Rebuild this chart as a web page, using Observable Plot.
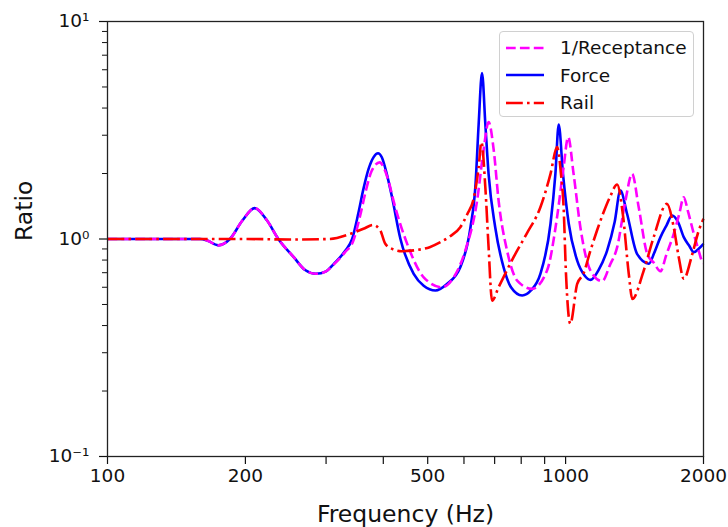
<!DOCTYPE html>
<html>
<head>
<meta charset="utf-8">
<script src="https://cdn.jsdelivr.net/npm/d3@7"></script>
<script src="https://cdn.jsdelivr.net/npm/@observablehq/plot@0.6"></script>
<style>
  html, body { margin: 0; padding: 0; background: #fff; }
  #wrap { position: relative; width: 728px; height: 527px; font-family: "DejaVu Sans", sans-serif; }
  #legend { position: absolute; left: 499px; top: 31px; width: 193px; height: 84px;
    border: 1px solid #d0d0d0; border-radius: 4px; background: rgba(255,255,255,0.85); }
  .row { position: absolute; left: 0; height: 27px; display: flex; align-items: center; font-size: 18.5px; color: #111; }
  .row svg { margin-left: 6px; margin-right: 16px; }
</style>
</head>
<body>
<div id="wrap"></div>
<script>
// ---- data ----
const seriesNames = ["1/Receptance", "Force", "Rail"];
const seriesColors = ["#ff00ff", "#0000ff", "#ff0000"];

const recFreq = [100,140,159,165,174.5,185,197,209.5,223,236,255,270,285,300,312,330,344,356,366,377,393,402,412,421,451,490,537,570,604,641,662,679,697,714,745,784,845,911,958,990,1013,1041,1077,1133,1202,1250,1296,1351,1397,1444,1507,1560,1611,1660,1722,1770,1811,1850,1905,1950,1990,2000];
const recVal  = [1,1,1,0.985,0.935,1.0,1.216,1.386,1.216,1.0,0.825,0.72,0.692,0.71,0.765,0.87,0.98,1.28,1.65,2.05,2.25,2.1,1.8,1.5,0.95,0.667,0.60,0.667,0.885,1.503,2.55,3.45,2.55,1.503,0.885,0.644,0.59,0.716,1.26,2.14,2.94,1.993,1.133,0.716,0.64,0.76,0.917,1.503,1.993,1.4,0.855,0.775,0.711,0.849,1.056,1.3,1.556,1.34,1.056,0.892,0.782,0.775];

const forceFreq = [100,140,159,165,174.5,185,197,209.5,223,236,255,270,285,300,312,330,342,353,362,371.5,381,389.5,397,407,418,436,466,490,520,550,589,620,636,646,657,668,679,702,732,760,804,840,881,927,950,966,987,1016,1060,1100,1133,1180,1232,1280,1317,1362,1432,1520,1560,1611,1660,1708,1760,1811,1860,1905,1950,2000];
const forceVal  = [1,1,1,0.985,0.935,1.0,1.216,1.386,1.216,1.0,0.825,0.72,0.692,0.71,0.769,0.88,1.0,1.32,1.7,2.1,2.38,2.48,2.376,1.993,1.556,1.0,0.692,0.61,0.58,0.62,0.742,1.133,1.794,3.38,5.8,3.38,1.993,1.133,0.742,0.6,0.55,0.58,0.692,1.175,1.993,3.36,1.99,1.175,0.796,0.68,0.649,0.72,0.885,1.2,1.67,1.306,0.855,0.77,0.86,1.02,1.153,1.282,1.195,1.02,0.933,0.87,0.9,0.95];

const railFreq = [100,200,250,306,339,362,380,394,404,418,439,473,505,533,560,589,610,631,646,655,668,679,691,714,770,822,881,927,958,977,990,1002,1024,1060,1093,1133,1172,1211,1250,1296,1333,1374,1398,1481,1557,1664,1722,1766,1811,1891,1953,2000];
const railVal  = [1,1,0.995,1.0,1.056,1.114,1.16,1.094,0.95,0.901,0.879,0.89,0.917,0.967,1.03,1.133,1.3,1.556,2.14,2.787,1.73,0.917,0.52,0.6,0.825,1.056,1.4,1.993,2.65,1.993,1.4,0.69,0.408,0.622,0.69,0.885,1.1,1.33,1.56,1.78,1.306,0.69,0.53,0.716,1.02,1.45,1.133,0.825,0.656,0.855,1.094,1.238];

const xTicks = [100, 200, 500, 1000, 2000];
const xMinor = [300, 400, 600, 700, 800, 900];
const yTicks = [0.1, 1, 10];
const yTickLabels = ["10\u207B\u00B9", "10\u2070", "10\u00B9"];
const yMinor = [0.2,0.3,0.4,0.5,0.6,0.7,0.8,0.9,2,3,4,5,6,7,8,9];

const toRows = (fs, vs) => fs.map((f, i) => ({f, v: vs[i]}));
const rec = toRows(recFreq, recVal);
const force = toRows(forceFreq, forceVal);
const rail = toRows(railFreq, railVal);

const SW = 2.6;
const dashes = ["9.7,4.2", null, "16.8,4.2,2.6,4.2"];

const chart = Plot.plot({
  width: 728,
  height: 527,
  marginLeft: 107,
  marginRight: 25,
  marginTop: 21,
  marginBottom: 71,
  style: {fontFamily: "DejaVu Sans", fontSize: "18.5px", color: "#111", background: "#fff"},
  x: {type: "log", domain: [100, 2000]},
  y: {type: "log", domain: [0.1, 10]},
  marks: [
    Plot.axisX({ticks: xTicks, tickFormat: d => String(d), tickSize: 8, tickPadding: 4, fontSize: 18.5, label: null, strokeWidth: 1.2}),
    Plot.axisX({ticks: xMinor, tickFormat: () => "", tickSize: 8, label: null, strokeWidth: 1.2}),
    Plot.axisY({ticks: yTicks, tickFormat: d => yTickLabels[yTicks.indexOf(d)], tickSize: 8, tickPadding: 10, fontSize: 18.5, label: null, strokeWidth: 1.2}),
    Plot.axisY({ticks: yMinor, tickFormat: () => "", tickSize: 5, label: null, strokeWidth: 1}),
    Plot.line(force, {x: "f", y: "v", stroke: seriesColors[1], strokeWidth: SW, curve: "monotone-x", strokeLinecap: "butt"}),
    Plot.line(rec, {x: "f", y: "v", stroke: seriesColors[0], strokeWidth: SW, strokeDasharray: dashes[0], curve: "monotone-x", strokeLinecap: "butt"}),
    Plot.line(rail, {x: "f", y: "v", stroke: seriesColors[2], strokeWidth: SW, strokeDasharray: dashes[2], curve: "monotone-x", strokeLinecap: "butt"}),
    Plot.frame({stroke: "#222", strokeWidth: 1.3}),
    Plot.text(["Frequency (Hz)"], {frameAnchor: "bottom", dy: 65, fontSize: 23.5, fill: "#111"}),
    Plot.text(["Ratio"], {frameAnchor: "left", dx: -83, dy: 2, rotate: -90, fontSize: 23.5, fill: "#111"})
  ]
});

const wrap = document.getElementById("wrap");
wrap.appendChild(chart);

// legend
const legend = document.createElement("div");
legend.id = "legend";
seriesNames.forEach((name, i) => {
  const row = document.createElement("div");
  row.className = "row";
  row.style.top = (2 + i * 27.5) + "px";
  const dash = dashes[i] ? `stroke-dasharray="${dashes[i]}"` : "";
  row.innerHTML = `<svg width="38" height="10"><line x1="0" y1="5" x2="38" y2="5" stroke="${seriesColors[i]}" stroke-width="${SW}" ${dash}/></svg><span>${name}</span>`;
  legend.appendChild(row);
});
wrap.appendChild(legend);
</script>
</body>
</html>
